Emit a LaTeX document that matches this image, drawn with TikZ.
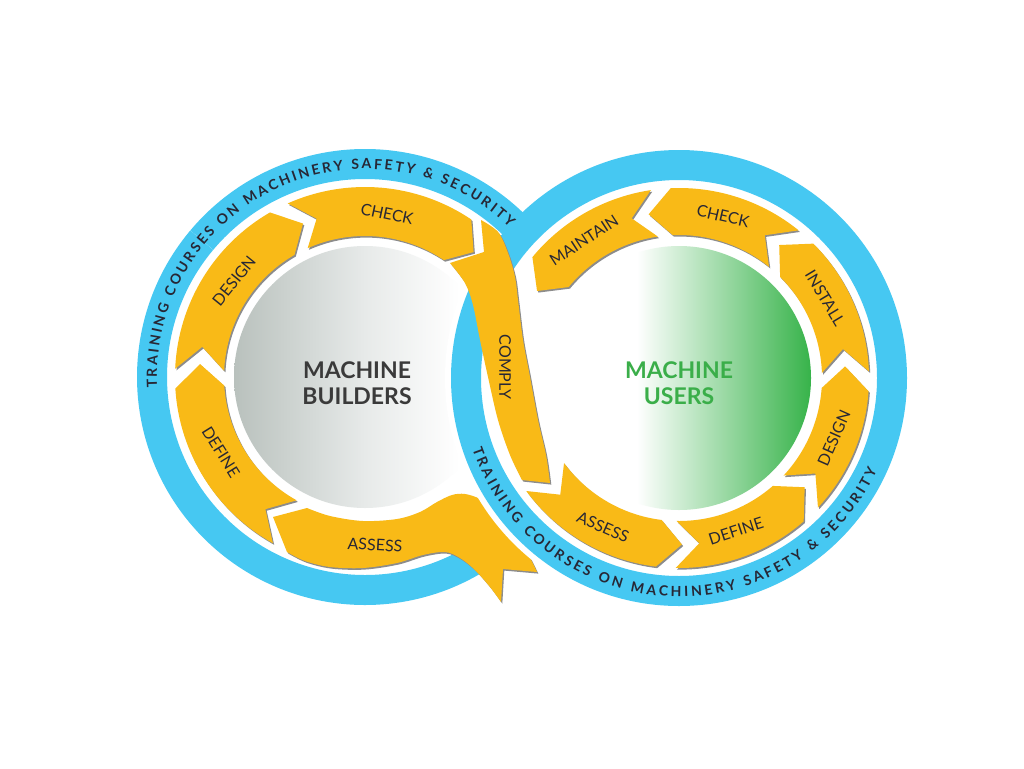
\documentclass[tikz,border=0pt]{standalone}
\usepackage{fontspec}
\setmainfont{Lato}
\usetikzlibrary{decorations.text}
\definecolor{ringblue}{HTML}{46C8F2}
\definecolor{yel}{HTML}{F9BA17}
\definecolor{labc}{HTML}{272735}
\definecolor{bigc}{HTML}{3A3A3A}
\definecolor{gl}{HTML}{B9C1BD}
\definecolor{gm}{HTML}{E7EAE9}
\definecolor{ug}{HTML}{37B34A}
\definecolor{ugt}{HTML}{3AAE49}
\pgfdeclarehorizontalshading{greyshade}{100bp}{color(0bp)=(gl); color(25bp)=(gl); color(50bp)=(gm); color(68bp)=(white); color(100bp)=(white)}
\pgfdeclarehorizontalshading{greenshade}{100bp}{color(0bp)=(white); color(25bp)=(white); color(42bp)=(white); color(75bp)=(ug); color(100bp)=(ug)}
\newcommand{\ringfont}{\fontsize{14}{14}\selectfont\bfseries}
\newcommand{\arrowseg}[6]{\fill[#1] (#2:#5) arc[start angle=#2, end angle=#3, radius=#5] -- ({#3+#6}:{(#4+#5)/2}) -- (#3:#4) arc[start angle=#3, end angle=#2, radius=#4] -- ({#2+#6}:{(#4+#5)/2}) -- cycle;}
\newcommand{\yarrow}[5]{\arrowseg{yshadow,shift={(1.3,-1.6)}}{#1}{#2}{#3}{#4}{#5}\arrowseg{yfill}{#1}{#2}{#3}{#4}{#5}}
\newcommand{\complyshape}[1]{\fill[#1] (484,-252) -- plot[smooth,tension=0.55] coordinates {(481,-220) (498,-232) (508,-253) (515,-277) (518,-300) (523,-340) (530,-377) (538,-420) (546,-455) (550,-483)} -- plot[smooth,tension=0.55] coordinates {(522,-480) (510,-455) (498,-420) (488,-377) (480,-340) (473,-305) (465,-283) (450,-263)} -- cycle;}
\newcommand{\assessshape}[1]{\fill[#1] (273,-517) -- plot[smooth,tension=0.55] coordinates {(307,-508) (330,-516) (363,-521) (397,-519) (420,-512) (437,-502) (452,-495) (465,-494) (480,-499) (497,-511) (513,-530) (527,-552) (537,-572)} -- (503,-569) -- plot[smooth,tension=0.55] coordinates {(501,-602) (490,-587) (475,-570) (460,-558) (445,-552) (423,-555) (397,-563) (363,-568) (330,-567) (305,-561) (287,-552)} -- cycle;}
\begin{document}
\begin{tikzpicture}[x=1pt,y=1pt,
  yshadow/.style={fill=black!45},
  yfill/.style={fill=yel},
  lab/.style={font=\fontsize{16}{16}\selectfont, text=labc, inner sep=0pt},
  big/.style={font=\fontsize{23}{26}\selectfont\bfseries, align=center, inner sep=0pt},
  ringtext/.style={decorate, decoration={text along path, text align={fit to path}, text color=labc,
     text={|\ringfont|TRAINING COURSES ON MACHINERY SAFETY {\&} SECURITY}}}]
\useasboundingbox (0,0) rectangle (1024,-768);
\fill[white] (0,0) rectangle (1024,-768);
\coordinate (L) at (365,-377);
\coordinate (R) at (679,-378);
% left blue band (lower, under right ring)
\draw[ringblue,line width=30pt] ([shift={(46:213)}]L) arc[start angle=46,end angle=318,radius=213];
% inner discs
\shade[shading=greyshade] (L) circle[radius=131];
\shade[shading=greenshade] (R) circle[radius=132];
% ribbon of left ASSESS (under right ring border)
\assessshape{yshadow,shift={(1.3,-1.6)}}
\assessshape{yfill}
% right ring
\draw[white,line width=42pt] (R) circle[radius=213];
\draw[ringblue,line width=30pt] (R) circle[radius=213];
% left ring upper part over right ring
\draw[white,line width=42pt] ([shift={(140:213)}]L) arc[start angle=140,end angle=47,radius=213];
\draw[ringblue,line width=30pt] ([shift={(140:213)}]L) arc[start angle=140,end angle=40,radius=213];
% ring texts
\path[ringtext] ([shift={(183:208)}]L) arc[start angle=183,end angle=46,radius=208];
\path[ringtext] ([shift={(199:218.5)}]R) arc[start angle=199,end angle=335,radius=218.5];
% left ring arrows
\begin{scope}[shift={(L)}]
\yarrow{241}{183.5}{141}{190}{-8}
\yarrow{177.5}{120}{141}{190}{-8}
\yarrow{114}{56}{141}{190}{-7}
\end{scope}
% right ring arrows
\begin{scope}[shift={(R)}]
\yarrow{216.5}{263}{143}{190}{8}
\yarrow{269}{311}{143}{190}{8}
\yarrow{317}{356}{143}{190}{8}
\yarrow{2}{45}{143}{190}{8}
\yarrow{51}{92.5}{143}{190}{8}
\yarrow{98.5}{140.5}{143}{190}{8}
\end{scope}
% comply ribbon
\complyshape{yshadow,shift={(1.3,-1.6)}}
\complyshape{yfill}
% labels
\node[lab,rotate=-58] (defineL) at (221,-452) {DEFINE};
\node[lab,rotate=51] (designL) at (234,-281) {DESIGN};
\node[lab,rotate=-12] (checkL) at (387,-214) {CHECK};
\node[lab,rotate=-90] (comply) at (505,-367) {COMPLY};
\node[lab,rotate=-3] (assessL) at (375,-545) {ASSESS};
\node[lab,rotate=33] (maintain) at (584,-240) {MAINTAIN};
\node[lab,rotate=-13] (checkR) at (723,-216) {CHECK};
\node[lab,rotate=-59] (install) at (825,-298) {INSTALL};
\node[lab,rotate=66] (designR) at (834,-438) {DESIGN};
\node[lab,rotate=18] (defineR) at (736,-531) {DEFINE};
\node[lab,rotate=-24] (assessR) at (603,-527) {ASSESS};
\node[big,text=bigc] (builders) at (357,-383) {MACHINE\\BUILDERS};
\node[big,text=ugt] (users) at (679,-383) {MACHINE\\USERS};
\end{tikzpicture}
\end{document}
